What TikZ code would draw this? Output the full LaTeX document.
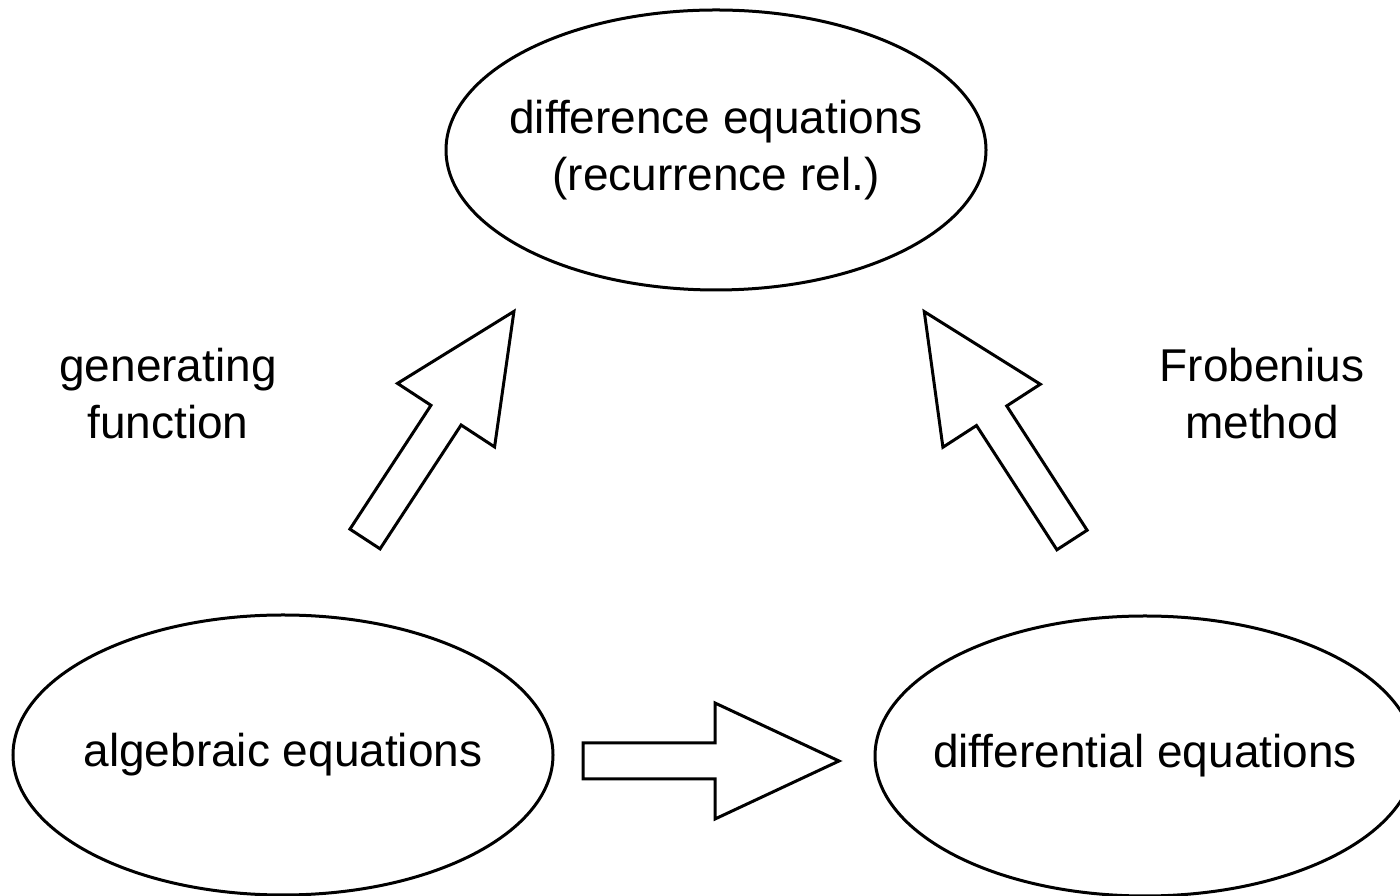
\documentclass[tikz,border=0pt]{standalone}
\usepackage{fontspec}
\setmainfont{Liberation Sans}
\usetikzlibrary{shapes.geometric}

\tikzset{
  bubble/.style={draw, ellipse, line width=3pt, minimum width=540pt, minimum height=280pt, inner sep=0pt},
  eqtext/.style={align=center, font=\fontsize{46}{57}\selectfont},
  % flecha gruesa hueca, #1 = largo total
  pics/fatarrow/.style={code={
    \draw[line width=3pt, line join=miter]
      (0,-18) -- (#1-124,-18) -- (#1-124,-58) -- (#1,0) -- (#1-124,58) -- (#1-124,18) -- (0,18) -- cycle;}}
}

\begin{document}
\begin{tikzpicture}[x=1pt, y=1pt]
  \useasboundingbox (0,0) rectangle (1400,896);
  % las tres clases de ecuaciones
  \node[bubble] (diffc) at (716,746) {};
  \node[bubble] (alg) at (283,141) {};
  \node[bubble] (dif) at (1145,140) {};
  \node[eqtext] (diffctxt) at (diffc) {difference equations\\(recurrence rel.)};
  \node[eqtext] (algtxt) at (alg) {algebraic equations};
  \node[eqtext] (diftxt) at (dif) {differential equations};
  % colas de las flechas
  \coordinate (algout) at (583,135);
  \coordinate (genout) at (365,357);
  \coordinate (frobout) at (1072,356);
  \pic at (algout) {fatarrow=256};
  \pic[rotate=56.8] at (genout) {fatarrow=272};
  \pic[rotate=122.9] at (frobout) {fatarrow=272};
  % etiquetas de los metodos
  \node[eqtext] (genlbl) at (168,502) {generating\\function};
  \node[eqtext] (froblbl) at (1262,502) {Frobenius\\method};
\end{tikzpicture}
\end{document}
